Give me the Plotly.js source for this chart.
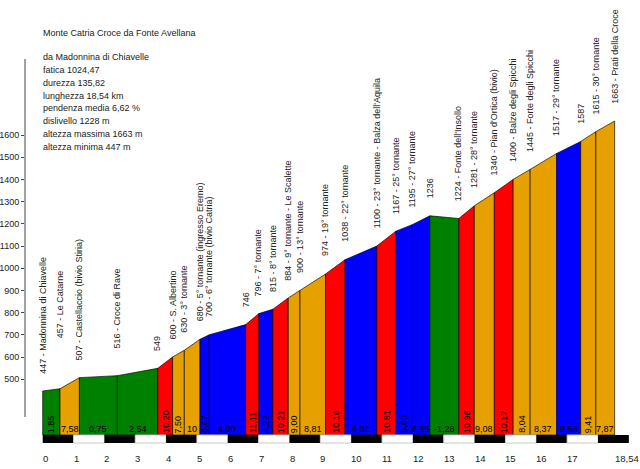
<!DOCTYPE html>
<html>
<head>
<meta charset="utf-8">
<script src="https://cdn.plot.ly/plotly-3.0.1.min.js"></script>
<style>html,body{margin:0;padding:0;background:#fff;}#chart{width:640px;height:469px;}</style>
</head>
<body>
<div id="chart"></div>
<script>
// ---------------- DATA ----------------
const kmPos = [0, 0.56, 1.19, 2.42, 3.73, 4.21, 4.59, 5.10, 5.40, 6.58, 7.01, 7.46, 7.96, 8.34, 9.17, 9.80, 10.83, 11.45, 11.96, 12.55, 13.49, 13.99, 14.64, 15.25, 15.80, 16.66, 17.44, 17.93, 18.54];
const elevation = [447, 457, 507, 516, 549, 600, 630, 680, 700, 746, 796, 815, 866, 900, 974, 1038, 1100, 1167, 1195, 1236, 1224, 1281, 1340, 1400, 1445, 1517, 1571, 1615, 1663];
const pointLabels = ["447 - Madonnina di Chiavelle", "457 - Le Catarne", "507 - Castellaccio (bivio Stiria)", "516 - Croce di Rave", "549", "600 - S. Albertino", "630 - 3° tornante", "680 - 5° tornante (ingresso Eremo)", "700 - 6° tornante (bivio Catria)", "746", "796 - 7° tornante", "815 - 8° tornante", "884 - 9° tornante - Le Scalette", "900 - 13° tornante", "974 - 19° tornante", "1038 - 22° tornante", "1100 - 23° tornante - Balza dell'Aquila", "1167 - 25° tornante", "1195 - 27° tornante", "1236", "1224 - Fonte dell'Insollo", "1281 - 28° tornante", "1340 - Pian d'Ortica (bivio)", "1400 - Balze degli Spicchi", "1445 - Forte degli Spicchi", "1517 - 29° tornante", "1587", "1615 - 30° tornante", "1663 - Prati della Croce"];
const gradients = [1.85, 7.58, 0.75, 2.54, 10.20, 7.50, 10, 6.67, 4.00, 11.11, 4.22, 10.21, 9.00, 8.81, 10.16, 6.02, 10.81, 5.60, 6.95, -1.28, 10.96, 9.08, 10.17, 8.04, 8.37, 6.58, 9.41, 7.87];
const gradientLabels = ["1,85", "7,58", "0,75", "2,54", "10,20", "7,50", "10", "6,67", "4,00", "11,11", "4,22", "10,21", "9,00", "8,81", "10,16", "6,02", "10,81", "5,60", "6,95", "-1,28", "10,96", "9,08", "10,17", "8,04", "8,37", "6,58", "9,41", "7,87"];
const kmTicks = [0, 1, 2, 3, 4, 5, 6, 7, 8, 9, 10, 11, 12, 13, 14, 15, 16, 17, 18.54];
const kmTickLabels = ["0", "1", "2", "3", "4", "5", "6", "7", "8", "9", "10", "11", "12", "13", "14", "15", "16", "17", "18,54"];
const elevTicks = [500, 600, 700, 800, 900, 1000, 1100, 1200, 1300, 1400, 1500, 1600];
const chartTitle = "Monte Catria Croce da Fonte Avellana";
const infoLines = ["da Madonnina di Chiavelle", "fatica 1024,47", "durezza 135,82", "lunghezza 18,54 km", "pendenza media 6,62 %", "dislivello 1228 m", "altezza massima 1663 m", "altezza minima 447 m"];

// ---------------- STYLE / LAYOUT CONSTANTS ----------------
const W = 640, H = 469;
const PLOT_L = 25;
const X0PX = 42.7, PX_KM = 30.85;        // km 0 pixel, pixels per km
const REF_E = 1600, REF_PY = 135, PX_M = 0.222; // elevation pixel mapping
const elevAt = py => REF_E - (py - REF_PY) / PX_M;
const paperX = px => (px - PLOT_L) / (W - PLOT_L);
const paperY = py => 1 - py / H;
const BASE_PY = 435, SCALE_BOTTOM_PY = 443;
const labelLift = {1: 33, 3: 10};        // extra lift (px) for a few labels
const FONT = "'Liberation Sans', Arial, sans-serif";
const TXT = "#222";

function segColor(g) {
  if (g > 10) return "rgb(255,0,0)";
  if (g >= 7) return "rgb(230,161,0)";
  if (g >= 3.5) return "rgb(0,0,255)";
  return "rgb(0,128,0)";
}

const base = elevAt(BASE_PY);
const traces = [];
for (let i = 0; i < gradients.length; i++) {
  traces.push({
    type: "scatter", mode: "lines", fill: "toself",
    x: [kmPos[i], kmPos[i], kmPos[i + 1], kmPos[i + 1], kmPos[i]],
    y: [base, elevation[i], elevation[i + 1], base, base],
    fillcolor: segColor(gradients[i]),
    line: {color: "rgba(0,0,0,0.65)", width: 1},
    hoverinfo: "skip"
  });
}

const annotations = [];
// title and info
annotations.push({xref: "paper", yref: "paper", x: paperX(42.7), y: paperY(32.7), xanchor: "left", yanchor: "middle",
  text: chartTitle, showarrow: false, font: {family: FONT, size: 9, color: TXT}, borderpad: 0, borderwidth: 0});
infoLines.forEach((t, i) => {
  annotations.push({xref: "paper", yref: "paper", x: paperX(42.7), y: paperY(57.3 + 12.77 * i), xanchor: "left", yanchor: "middle",
    text: t, showarrow: false, font: {family: FONT, size: 9, color: TXT}, borderpad: 0, borderwidth: 0});
});
// waypoint labels
pointLabels.forEach((t, i) => {
  annotations.push({x: kmPos[i], y: elevation[i], xref: "x", yref: "y", xanchor: "center", yanchor: "bottom",
    textangle: -90, text: t, showarrow: false, yshift: 15.5 + (labelLift[i] || 0),
    font: {family: FONT, size: 9, color: TXT}});
});
// gradient labels
gradientLabels.forEach((t, i) => {
  const mid = (kmPos[i] + kmPos[i + 1]) / 2;
  const wpx = (kmPos[i + 1] - kmPos[i]) * PX_KM;
  const horizontal = wpx >= t.length * 4.5;
  if (horizontal) {
    annotations.push({x: mid, y: elevAt(429), xref: "x", yref: "y", xanchor: "center", yanchor: "middle",
      text: t, showarrow: false, font: {family: FONT, size: 9, color: "#000"}, borderpad: 0, borderwidth: 0});
  } else {
    annotations.push({x: mid, y: elevAt(435), xref: "x", yref: "y", xanchor: "center", yanchor: "bottom",
      textangle: -90, text: t, showarrow: false, font: {family: FONT, size: 9, color: "#000"}});
  }
});
// km labels
kmTicks.forEach((v, i) => {
  annotations.push({x: v, y: paperY(458.3), xref: "x", yref: "paper", xanchor: "left", yanchor: "middle",
    text: kmTickLabels[i], showarrow: false, font: {family: FONT, size: 9.5, color: TXT}, borderpad: 0, borderwidth: 0});
});

// shapes: y axis line and km scale bar
const shapes = [];
shapes.push({type: "line", xref: "paper", yref: "paper", x0: 0, x1: 0, y0: paperY(417), y1: paperY(59),
  line: {color: "#444", width: 1}});
const lastKm = Math.ceil(kmPos[kmPos.length - 1]);
for (let k = 0; k < lastKm; k++) {
  const black = k % 2 === 0;
  shapes.push({type: "rect", xref: "x", yref: "paper", x0: k, x1: k + 1, y0: paperY(SCALE_BOTTOM_PY), y1: paperY(BASE_PY),
    fillcolor: black ? "#000" : "#fff", line: {color: black ? "#000" : "#c8c8c8", width: black ? 0 : 1}, layer: "above"});
}

const layout = {
  width: W, height: H,
  margin: {l: PLOT_L, r: 0, t: 0, b: 0, pad: 0},
  paper_bgcolor: "#fff", plot_bgcolor: "#fff",
  showlegend: false,
  xaxis: {range: [(PLOT_L - X0PX) / PX_KM, (W - X0PX) / PX_KM], visible: false, fixedrange: true},
  yaxis: {range: [elevAt(H), elevAt(0)], tickvals: elevTicks, ticktext: elevTicks.map(String),
    ticks: "outside", ticklen: 3, tickcolor: "#444", tickwidth: 1,
    showgrid: false, zeroline: false, showline: false,
    tickfont: {family: FONT, size: 9, color: TXT}, fixedrange: true},
  annotations: annotations,
  shapes: shapes
};

Plotly.newPlot("chart", traces, layout, {staticPlot: true, displayModeBar: false});
</script>
</body>
</html>
